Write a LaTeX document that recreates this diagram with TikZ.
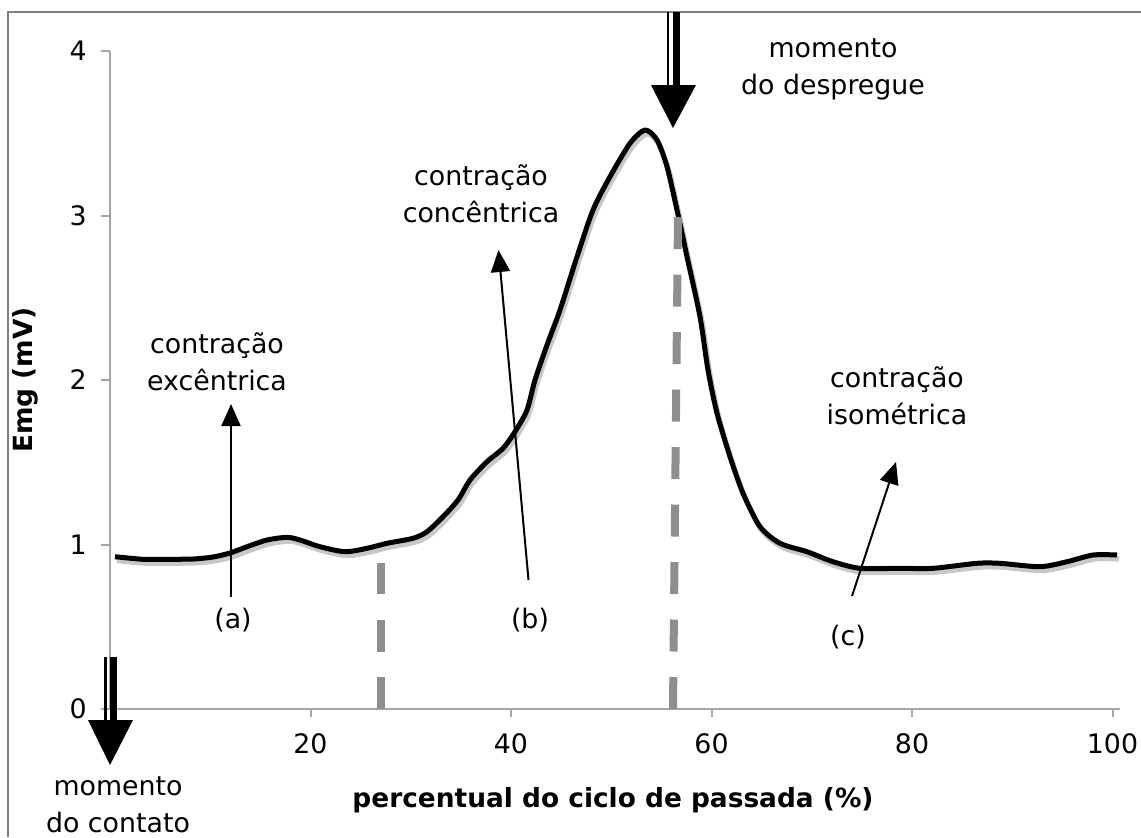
\documentclass[tikz,border=0pt]{standalone}
\usepackage{fontspec}
\setmainfont{DejaVu Sans}
\usetikzlibrary{arrows.meta}
\definecolor{framegray}{HTML}{808080}
\definecolor{axisgray}{HTML}{A6A6A6}
\definecolor{dashgray}{HTML}{8E8E8E}
\definecolor{shadowgray}{HTML}{C8C8C8}
\begin{document}
\begin{tikzpicture}[x=0.5pt,y=-0.5pt,
  lbl/.style={font=\fontsize{13.4}{18.5}\selectfont, align=center, inner sep=0pt},
  ticklbl/.style={font=\fontsize{13.4}{16}\selectfont, inner sep=0pt},
  axtitle/.style={font=\bfseries\fontsize{13.2}{16}\selectfont, inner sep=0pt},
  axisline/.style={draw=axisgray, line width=1pt},
  ptr/.style={line width=1pt, -{Triangle[length=11pt,width=9.5pt]}},
  guide/.style={draw=dashgray, line width=4pt, dash pattern=on 16pt off 12.75pt},
  curveline/.style={line width=2.5pt, line join=round, smooth, tension=0.45},
  bigshaftthin/.style={line width=1.2pt},
  bigshaftthick/.style={line width=3.5pt},
]
\useasboundingbox (0,0) rectangle (1141,837);
% frame (cut at right and bottom)
\draw[framegray, line width=0.8pt] (8,837) -- (8,12) -- (1141,12);

% axes
\draw[axisline] (110,51) -- (110,709) -- (1120,709);
\foreach \yy in {51,215.5,380,544.5,709} \draw[axisline] (101,\yy) -- (110,\yy);
\foreach \xx in {310.5,511,711.5,912,1112.5} \draw[axisline] (\xx,709) -- (\xx,717);

% y tick labels
\node[ticklbl, anchor=east] (y4) at (87,51) {4};
\node[ticklbl, anchor=east] (y3) at (87,215.5) {3};
\node[ticklbl, anchor=east] (y2) at (87,380) {2};
\node[ticklbl, anchor=east] (y1) at (87,544.5) {1};
\node[ticklbl, anchor=east] (y0) at (87,709) {0};
% x tick labels
\node[ticklbl] (x0) at (112,744) {0};
\node[ticklbl] (x20) at (310.5,744) {20};
\node[ticklbl] (x40) at (511,744) {40};
\node[ticklbl] (x60) at (711.5,744) {60};
\node[ticklbl] (x80) at (912,744) {80};
\node[ticklbl] (x100) at (1112.5,744) {100};

% axis titles
\node[axtitle] (xt) at (613,800) {percentual do ciclo de passada (\%)};
\node[axtitle, rotate=90] (yt) at (25,380) {Emg (mV)};

% curve shadow and curve
\def\curvepts{(115,556.7) (143,559.3) (167,559.3) (193,559) (213,557) (230,553) (247,546.7) (267,540) (287,537.3) (300,540) (320,546.7) (345,551.7) (367,548.3) (387,543.3) (413,538.3) (427,531.7) (443,516.7) (458,500) (470,480) (487,461.7) (503,448.3) (515,431.7) (527,410) (535,380) (547,345) (560,310) (577,256.7) (593,210) (610,176.7) (630,143.3) (645,130) (657,140) (667,166.7) (677,210) (687,256.7) (700,316.7) (708,370) (717,413.3) (730,456.7) (743,493.3) (760,526.7) (780,543.3) (807,551.7) (833,561.7) (860,568.3) (900,568.3) (933,568.3) (977,563.3) (1000,563.3) (1040,566.7) (1067,561.7) (1093,555) (1117,555)}
\begin{scope}[shift={(2,4)}]
\draw[shadowgray, curveline] plot coordinates \curvepts;
\end{scope}
\draw[black, curveline] plot coordinates \curvepts;

% phase guides
\coordinate (g1b) at (381,709);
\coordinate (g1t) at (381,563);
\coordinate (g2b) at (673,709);
\coordinate (g2t) at (678,217);
\draw[guide] (g1b) -- (g1t);
\draw[guide] (g2b) -- (g2t);

% labels
\node[lbl] (desp) at (833,69) {momento\\do despregue};
\node[lbl] (conc) at (481,194) {contração\\concêntrica};
\node[lbl] (exc) at (217,362) {contração\\excêntrica};
\node[lbl] (iso) at (897,395.5) {contração\\isométrica};
\node[lbl] (cont) at (118,805) {momento\\do contato};
\node[lbl] (la) at (233,620) {(a)};
\node[lbl] (lb) at (530,620) {(b)};
\node[lbl] (lc) at (848,637) {(c)};

% thin pointer arrows
\coordinate (at) at (231,597);
\coordinate (ah) at (231,404);
\coordinate (bt) at (528.5,580);
\coordinate (bh) at (498.5,250);
\coordinate (ct) at (852,596);
\coordinate (ch) at (896,462);
\draw[ptr] (at) -- (ah);
\draw[ptr] (bt) -- (bh);
\draw[ptr] (ct) -- (ch);

% big arrow: momento do despregue
\coordinate (dtip) at (673,128);
\draw[bigshaftthin] (668,12) -- (668,86);
\draw[bigshaftthick] (676,12) -- (676,86);
\fill (651,85) -- (696,85) -- (dtip) -- cycle;

% big arrow: momento do contato
\coordinate (ctip) at (110,765);
\draw[bigshaftthin] (105.5,657) -- (105.5,721);
\draw[bigshaftthick] (113,657) -- (113,721);
\fill (88,720) -- (133,720) -- (ctip) -- cycle;
\end{tikzpicture}
\end{document}
